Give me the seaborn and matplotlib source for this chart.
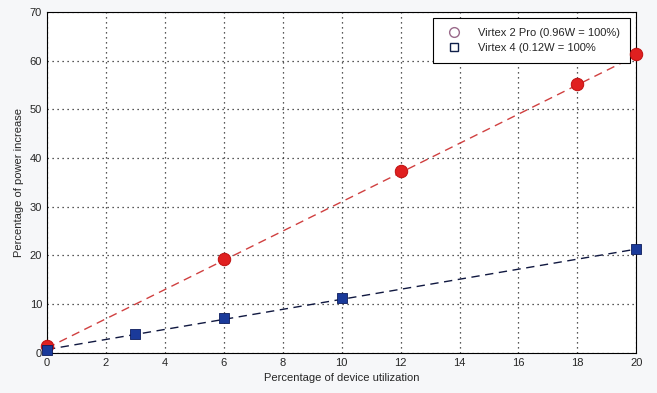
import matplotlib
matplotlib.use('Agg')
import matplotlib.pyplot as plt
from matplotlib.lines import Line2D
import seaborn as sns
import pandas as pd

# measured points
v2_x = [0, 6, 12, 18, 20]
v2_y = [1.5, 19.3, 37.4, 55.2, 61.3]
v4_x = [0, 3, 6, 10, 20]
v4_y = [0.7, 3.8, 7.2, 11.2, 21.3]

# linear trend lines (end points)
fit_x = [0, 20]
fit_v2 = [1.0, 61.0]
fit_v4 = [0.7, 21.3]

labels = ['Virtex 2 Pro (0.96W = 100%)', 'Virtex 4 (0.12W = 100%']

sns.set_style('white')
plt.rcParams['font.family'] = ['Liberation Sans', 'DejaVu Sans']

df2 = pd.DataFrame({'x': v2_x, 'y': v2_y})
df4 = pd.DataFrame({'x': v4_x, 'y': v4_y})

fig = plt.figure(figsize=(6.57, 3.93), dpi=100, facecolor='#f6f7f9')
ax = fig.add_axes([0.0715, 0.102, 0.897, 0.868])

ax.plot(fit_x, fit_v2, ls=(0, (6, 4)), color='#d04040', lw=1.0, zorder=2)
ax.plot(fit_x, fit_v4, ls=(0, (6, 4)), color='#101840', lw=1.0, zorder=2)
sns.scatterplot(data=df2, x='x', y='y', ax=ax, marker='o', s=80,
                color='#e02020', edgecolor='#c01010', zorder=6, legend=False,
                clip_on=False)
sns.scatterplot(data=df4, x='x', y='y', ax=ax, marker='s', s=55,
                color='#1a3a9a', edgecolor='#0a1a5a', zorder=6, legend=False,
                clip_on=False)

ax.set_xlim(0, 20)
ax.set_ylim(0, 70)
ax.set_xticks(range(0, 21, 2))
ax.set_yticks(range(0, 71, 10))
ax.grid(True, ls=(0, (1, 3)), color='#222222', lw=0.9)
ax.tick_params(direction='in', length=4, labelsize=8, color='black')
for s in ax.spines.values():
    s.set_color('black')
    s.set_linewidth(0.8)
ax.set_xlabel('Percentage of device utilization', fontsize=8)
ax.set_ylabel('Percentage of power increase', fontsize=8)

handles = [Line2D([], [], ls='none', marker='o', mfc='none', mec='#9a6a8a', ms=7),
           Line2D([], [], ls='none', marker='s', mfc='none', mec='#10204a', ms=6)]
leg = ax.legend(handles, labels, loc='upper right', fontsize=8, frameon=True,
                fancybox=False, edgecolor='black', framealpha=1,
                bbox_to_anchor=(0.9995, 0.9995), handletextpad=1.2, borderpad=0.9)
leg.get_frame().set_linewidth(0.8)
leg.set_zorder(5)

fig.savefig('out.png', dpi=100, facecolor=fig.get_facecolor())
